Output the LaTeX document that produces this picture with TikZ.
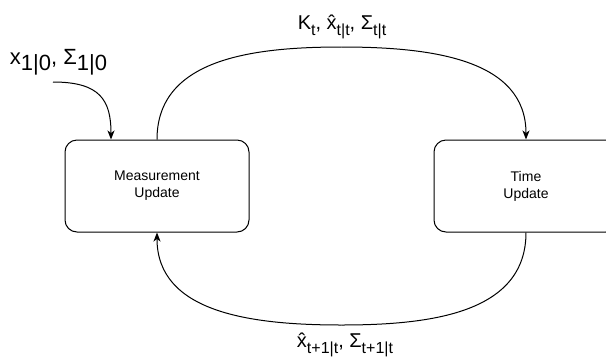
\documentclass[tikz,border=0pt]{standalone}
\usepackage{fontspec}
\setmainfont{Liberation Sans}
\usetikzlibrary{arrows.meta}
\newcommand{\lowsub}[2]{\raisebox{-#1}{#2}}
\newcommand{\smallsub}{\fontsize{16}{19}\selectfont}
\begin{document}
\begin{tikzpicture}[x=1pt,y=-1pt,
  box/.style={draw, line width=1pt, rounded corners=12pt, minimum width=184pt, minimum height=92pt,
    align=center, inner sep=0pt, font=\fontsize{14}{16.8}\selectfont},
  conn/.style={draw, line width=1pt},
  arr/.style={conn, -{Stealth[length=9pt,width=7pt,inset=2.5pt]}},
  lbl/.style={anchor=base, inner sep=0pt, font=\fontsize{20}{24}\selectfont}]
\useasboundingbox (0,0) rectangle (606,360);
\node[box] (mu) at (157,186) {Measurement\\Update};
\node[box] (tu) at (526,186) {Time\\Update};
\coordinate (start) at (53,82);
\coordinate (mi) at ([xshift=-46pt]mu.north);
\coordinate (topapex) at (341.5,47);
\coordinate (botapex) at (341.5,325);
\draw[arr] (start) .. controls (100,82) and (111,100) .. (mi);
\draw[conn] (mu.north) .. controls +(0,-80) and +(-91,0) .. (topapex);
\draw[arr] (topapex) .. controls +(91,0) and +(0,-80) .. (tu.north);
\draw[conn] (tu.south) .. controls +(0,80) and +(91,0) .. (botapex);
\draw[arr] (botapex) .. controls +(-91,0) and +(0,80) .. (mu.south);
\node[lbl, font=\fontsize{22}{26}\selectfont] (l1) at (58.5,64) {x\lowsub{6pt}{1|0}, Σ\lowsub{6pt}{1|0}};
\node[lbl] (l2) at (342,29) {K\lowsub{6pt}{\smallsub t}, \^x\lowsub{6pt}{\smallsub t|t}, Σ\lowsub{6pt}{\smallsub t|t}};
\node[lbl] (l3) at (345,347) {\^x\lowsub{6pt}{\smallsub t+1|t}, Σ\lowsub{6pt}{\smallsub t+1|t}};
\end{tikzpicture}
\end{document}
